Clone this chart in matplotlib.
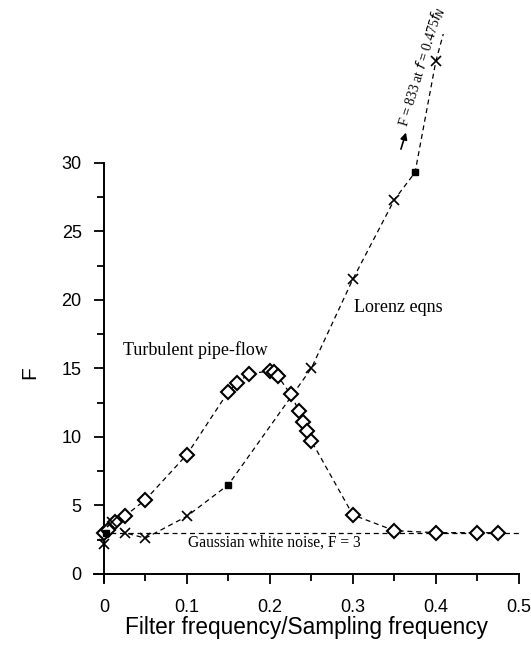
import numpy as np
import matplotlib
matplotlib.use("Agg")
from matplotlib import pyplot as plt

# Turbulent pipe-flow (open diamonds)
pipe_f = [0, 0.005, 0.013, 0.025, 0.05, 0.1, 0.15, 0.16, 0.175, 0.2, 0.205, 0.21,
          0.225, 0.235, 0.24, 0.245, 0.25, 0.3, 0.35, 0.4, 0.45, 0.475]
pipe_F = [3.0, 3.2, 3.8, 4.2, 5.4, 8.7, 13.3, 13.9, 14.6, 14.8, 14.7, 14.4,
          13.1, 11.9, 11.1, 10.4, 9.7, 4.3, 3.15, 3.0, 3.0, 3.0]

# Lorenz equations (crosses, a few filled squares)
lor_f = [0, 0.003, 0.01, 0.025, 0.05, 0.1, 0.15, 0.25, 0.3, 0.35, 0.375, 0.4, 0.409]
lor_F = [2.2, 3.0, 3.8, 3.0, 2.6, 4.2, 6.5, 15.0, 21.5, 27.3, 29.3, 37.4, 39.4]
lor_sq = [1, 6, 10]          # indices drawn as filled squares
lor_x = [0, 2, 3, 4, 5, 7, 8, 9, 11]

noise_F = 3

plt.rcParams['font.family'] = ['Liberation Sans', 'DejaVu Sans']
fig = plt.figure(figsize=(5.31, 6.5), dpi=100)
ax = fig.add_axes([0.177, 0.1046, 0.800, 0.645])

dash = (0, (4, 3))
ax.axhline(noise_F, color='black', lw=0.9, ls=dash, xmin=0.02, xmax=1.0)
ax.plot(pipe_f, pipe_F, color='black', lw=0.9, ls=dash, zorder=2)
ax.plot(pipe_f, pipe_F, ls='none', marker='D', ms=7.2, mfc='white', mec='black',
        mew=1.5, zorder=3)
ax.plot(lor_f, lor_F, color='black', lw=0.9, ls=dash, zorder=2, clip_on=False)
ax.plot([lor_f[i] for i in lor_x], [lor_F[i] for i in lor_x], ls='none', marker='x',
        ms=6.5, mec='black', mew=1.2, zorder=3, clip_on=False)
ax.plot([lor_f[i] for i in lor_sq], [lor_F[i] for i in lor_sq], ls='none', marker='s',
        ms=5, mfc='black', mec='black', zorder=3, clip_on=False)

ax.set_xlim(-0.012, 0.5)
ax.set_ylim(-0.6, 30)
for s in ['top', 'right']:
    ax.spines[s].set_visible(False)
ax.spines['left'].set_position(('data', 0))
ax.spines['bottom'].set_position(('data', 0))
ax.spines['left'].set_linewidth(1.4)
ax.spines['bottom'].set_linewidth(1.4)

ax.set_xticks([0, 0.1, 0.2, 0.3, 0.4, 0.5])
ax.set_xticklabels(['0', '0.1', '0.2', '0.3', '0.4', '0.5'])
ax.set_xticks(np.arange(0.05, 0.5, 0.1), minor=True)
ax.set_yticks([0, 5, 10, 15, 20, 25, 30])
ax.set_yticks(np.arange(2.5, 30, 5), minor=True)
ax.tick_params(which='major', direction='out', length=7, width=1.3, labelsize=13, pad=9)
ax.tick_params(which='minor', direction='out', length=5, width=1.3)
ax.tick_params(axis='x', which='major', pad=11)

ax.set_xlabel('Filter frequency/Sampling frequency', fontsize=16.3, labelpad=0)
ax.set_ylabel('F', fontsize=15)
ax.yaxis.set_label_coords(-0.13, 0.5)

serif = ['Liberation Serif', 'DejaVu Serif']
ax.text(0.11, 16.3, 'Turbulent pipe-flow', family=serif, fontsize=13, ha='center', va='center')
ax.text(0.355, 19.4, 'Lorenz eqns', family=serif, fontsize=13, ha='center', va='center')
ax.text(0.206, 2.3, 'Gaussian white noise, F = 3', family=serif, fontsize=11.2, ha='center',
        va='center')
ax.text(0.383, 37.0, r'F = 833 at $f$ = 0.475$f_N$', family=serif, fontsize=10,
        rotation=73, ha='center', va='center', clip_on=False)
ax.annotate('', xy=(0.365, 32.4), xytext=(0.357, 30.8), annotation_clip=False,
            arrowprops=dict(arrowstyle='-|>', color='black', lw=1.2, mutation_scale=10))

fig.savefig('out.png', dpi=100)
